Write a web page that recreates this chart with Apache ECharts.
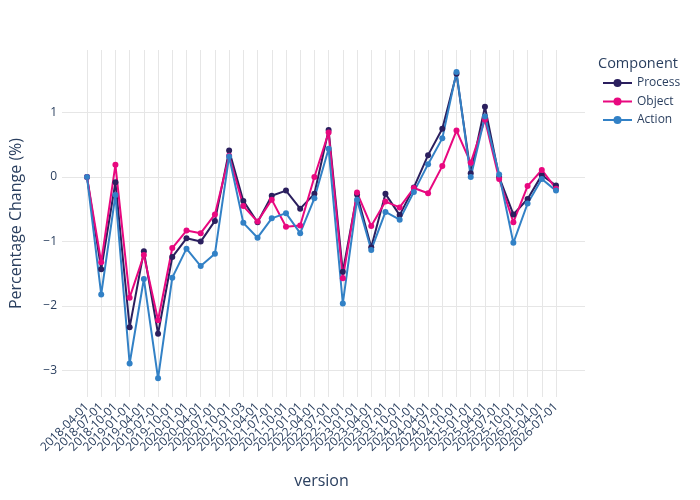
<!DOCTYPE html>
<html>
<head>
<meta charset="utf-8">
<script src="https://cdn.jsdelivr.net/npm/echarts@6/dist/echarts.min.js"></script>
<style>
  html, body { margin: 0; padding: 0; background: #fff; }
  #chart { width: 700px; height: 500px; }
</style>
</head>
<body>
<div id="chart"></div>
<script>
// quarterly versions
var versions = ['2018-04-01', '2018-07-01', '2018-10-01', '2019-01-01', '2019-04-01', '2019-07-01',
  '2019-10-01', '2020-01-01', '2020-04-01', '2020-07-01', '2020-10-01', '2021-01-03', '2021-04-01',
  '2021-07-01', '2021-10-01', '2022-01-01', '2022-04-01', '2022-07-01', '2022-10-01', '2023-01-01',
  '2023-04-01', '2023-07-01', '2023-10-01', '2024-01-01', '2024-04-01', '2024-07-01', '2024-10-01',
  '2025-01-01', '2025-04-01', '2025-07-01', '2025-10-01', '2026-01-01', '2026-04-01', '2026-07-01'];

var processVals = [0, -1.43, -0.08, -2.33, -1.15, -2.43, -1.24, -0.95, -1.00, -0.68, 0.41, -0.37,
  -0.70, -0.29, -0.21, -0.49, -0.26, 0.73, -1.47, -0.27, -1.09, -0.26, -0.59, -0.16, 0.34, 0.75,
  1.60, 0.06, 1.09, 0.00, -0.58, -0.34, 0.03, -0.13];
var objectVals = [0, -1.32, 0.19, -1.87, -1.21, -2.22, -1.10, -0.83, -0.87, -0.58, 0.33, -0.45,
  -0.69, -0.35, -0.77, -0.75, 0.00, 0.69, -1.57, -0.24, -0.76, -0.38, -0.47, -0.17, -0.25, 0.17,
  0.72, 0.22, 0.89, -0.03, -0.70, -0.14, 0.11, -0.18];
var actionVals = [0, -1.82, -0.28, -2.89, -1.58, -3.12, -1.56, -1.11, -1.38, -1.19, 0.32, -0.71,
  -0.94, -0.64, -0.56, -0.87, -0.33, 0.44, -1.96, -0.35, -1.13, -0.54, -0.66, -0.23, 0.20, 0.60,
  1.63, 0.00, 0.94, 0.04, -1.02, -0.41, -0.03, -0.21];

var yMin = -3.41, yMax = 1.97;
var txt = '#2a3f5f';
var font = 'Open Sans';
var gridCol = '#e6e6e6';

function mkSeries(name, vals, color) {
  return {
    name: name,
    type: 'line',
    xAxisIndex: 1,
    yAxisIndex: 1,
    data: vals,
    symbol: 'circle',
    symbolSize: 6,
    lineStyle: { width: 2, color: color },
    itemStyle: { color: color },
    emphasis: { disabled: true }
  };
}

var chart = echarts.init(document.getElementById('chart'));
chart.setOption({
  backgroundColor: '#fff',
  animation: false,
  textStyle: { fontFamily: font },
  title: {
    text: 'Component',
    left: 598, top: 56, padding: 0,
    textStyle: { fontFamily: font, fontSize: 14.5, fontWeight: 'normal', color: txt }
  },
  legend: {
    orient: 'vertical',
    left: 602, top: 77, padding: 0,
    itemWidth: 29, itemHeight: 10, itemGap: 6.5,
    textStyle: { fontFamily: font, fontSize: 12, color: txt },
    data: ['Process', 'Object', 'Action']
  },
  grid: [
    { left: 57, right: 115, top: 50, bottom: 103 },
    { left: 87, right: 144, top: 50, bottom: 103 }
  ],
  xAxis: [
    { type: 'value', gridIndex: 0, show: false, min: 0, max: 1 },
    {
      type: 'category', gridIndex: 1, data: versions, boundaryGap: false,
      name: 'version', nameLocation: 'middle', nameGap: 76,
      nameTextStyle: { fontFamily: font, fontSize: 16, color: txt },
      axisLine: { show: false }, axisTick: { show: false },
      axisLabel: { rotate: 45, interval: 0, fontSize: 12, color: txt, fontFamily: font, margin: 8 },
      splitLine: { show: true, lineStyle: { color: gridCol, width: 1 } }
    }
  ],
  yAxis: [
    {
      type: 'value', gridIndex: 0, min: yMin, max: yMax,
      name: 'Percentage Change (%)', nameLocation: 'middle', nameGap: 38,
      nameTextStyle: { fontFamily: font, fontSize: 16, color: txt },
      axisLine: { show: false }, axisTick: { show: false },
      axisLabel: {
        fontSize: 12, color: txt, fontFamily: font, margin: 5,
        showMinLabel: false, showMaxLabel: false,
        formatter: function (v) { return v < 0 ? '\u2212' + Math.abs(v) : String(v); }
      },
      splitLine: { show: true, showMinLine: false, showMaxLine: false, lineStyle: { color: gridCol, width: 1 } }
    },
    {
      type: 'value', gridIndex: 1, min: yMin, max: yMax, show: false,
      splitLine: { show: false }
    }
  ],
  series: [
    mkSeries('Process', processVals, '#2b1f5e'),
    mkSeries('Object', objectVals, '#e8087f'),
    mkSeries('Action', actionVals, '#3281c6')
  ]
});
</script>
</body>
</html>
